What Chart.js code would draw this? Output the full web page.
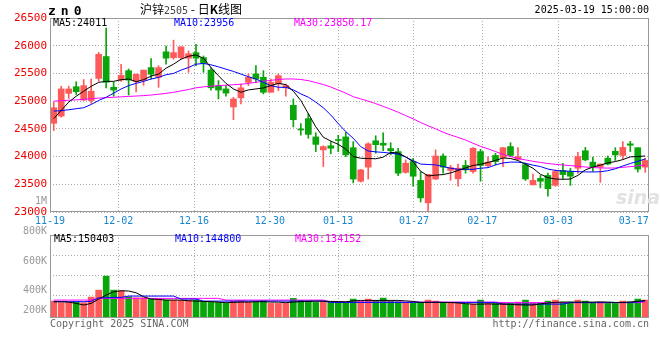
<!DOCTYPE html>
<html>
<head>
<meta charset="utf-8">
<script src="https://cdn.jsdelivr.net/npm/chart.js@4.4.1/dist/chart.umd.min.js"></script>
<style>
body { margin: 0; background: #fff; }
#wrap { position: relative; width: 660px; height: 360px; overflow: hidden; font-family: "DejaVu Sans Mono", monospace; font-size: 10px; }
#pbox { position: absolute; left: 0; top: 0; width: 660px; height: 232px; }
#vbox { position: absolute; left: 0; top: 232px; width: 660px; height: 128px; }
.t { position: absolute; white-space: nowrap; line-height: 12px; z-index: 2; }
.vl { right: 613px; color: #999; }
</style>
</head>
<body>
<div id="wrap">
  <div id="pbox"><canvas id="priceChart"></canvas></div>
  <div id="vbox"><canvas id="volChart"></canvas></div>

  <div class="t" style="left:48px;top:5px;font-weight:bold;font-size:13px;letter-spacing:5px;">zn0</div>
  <div class="t" style="left:140px;top:3px;font-family:'Noto Sans CJK SC';font-size:12px;color:#000;">沪锌<span style="font-family:'DejaVu Sans Mono';font-size:10px;color:#444;">2505</span> - 日<b>K</b>线图</div>
  <div class="t" style="right:11px;top:4px;color:#000;">2025-03-19 15:00:00</div>

  <div class="t" id="pMa5" style="left:53px;top:17px;color:#000;"></div>
  <div class="t" id="pMa10" style="left:174px;top:17px;color:#00f;"></div>
  <div class="t" id="pMa30" style="left:294px;top:17px;color:#f0f;"></div>

  <div class="t" id="vMa5" style="left:54px;top:233px;color:#000;"></div>
  <div class="t" id="vMa10" style="left:175px;top:233px;color:#00f;"></div>
  <div class="t" id="vMa30" style="left:295px;top:233px;color:#f0f;"></div>

  <div class="t vl" style="top:195px;">1M</div>
  <div class="t vl" style="top:225px;">800K</div>
  <div class="t vl" style="top:255px;">600K</div>
  <div class="t vl" style="top:284px;">400K</div>
  <div class="t vl" style="top:304px;">200K</div>

  <div class="t" style="left:50px;top:318px;color:#666;">Copyright 2025 SINA.COM</div>
  <div class="t" style="right:11px;top:318px;color:#666;">http://finance.sina.com.cn</div>
  <div class="t" style="left:616px;top:186px;font-family:'DejaVu Sans';font-style:italic;font-weight:bold;font-size:19px;line-height:22px;color:#e2e2e2;z-index:1;">sina</div>
</div>

<script>
var dates = ['11-19','11-20','11-21','11-22','11-25','11-26','11-27','11-28','11-29','12-02',
  '12-03','12-04','12-05','12-06','12-09','12-10','12-11','12-12','12-13','12-16',
  '12-17','12-18','12-19','12-20','12-23','12-24','12-25','12-26','12-27','12-30',
  '12-31','01-02','01-03','01-06','01-07','01-08','01-09','01-10','01-13','01-14',
  '01-15','01-16','01-17','01-20','01-21','01-22','01-23','01-24','01-27','02-05',
  '02-06','02-07','02-10','02-11','02-12','02-13','02-14','02-17','02-18','02-19',
  '02-20','02-21','02-24','02-25','02-26','02-27','02-28','03-03','03-04','03-05',
  '03-06','03-07','03-10','03-11','03-12','03-13','03-14','03-17','03-18','03-19'];
var tickDates = ['11-19','12-02','12-16','12-30','01-13','01-27','02-17','03-03','03-17'];

var open = [24600,24730,25140,25260,25020,25010,25410,25805,25250,25380,
  25550,25355,25380,25605,25430,25890,25785,25785,25775,25875,
  25785,25560,25280,25220,24895,25060,25340,25490,25430,25160,
  25310,25240,24925,24495,24685,24355,24120,24195,24300,24355,
  24160,23555,23810,24285,24240,24145,24090,23715,23910,23570,
  23165,23595,24010,23750,23600,23840,23730,24090,23835,24020,
  23980,24180,23950,23855,23490,23605,23660,23480,23750,23730,
  23790,24105,23900,23810,23970,24095,24020,24230,24160,23810];
var high = [24980,25270,25270,25350,25390,25400,25880,26320,25340,25665,
  25580,25490,25560,25770,25640,25995,26100,25985,25905,26025,
  25815,25605,25370,25280,25070,25310,25490,25640,25550,25400,
  25490,25310,25040,24595,24775,24430,24195,24270,24385,24440,
  24270,23770,24250,24375,24430,24250,24150,23940,23970,23730,
  23680,24120,24050,23840,23865,23930,24160,24130,24000,24060,
  24160,24250,24160,23880,23685,23660,23700,23760,23880,23790,
  24075,24165,23990,23865,24010,24160,24270,24275,24160,23970];
var low = [24470,24710,25050,25120,25010,24960,25360,25240,25090,25355,
  25110,25165,25285,25400,25250,25665,25755,25755,25520,25640,
  25520,25200,25040,25090,24665,24950,25280,25340,25130,25160,
  25190,25090,24535,24385,24330,24090,23820,24050,24090,24000,
  23525,23540,23595,24060,24105,24030,23655,23700,23465,23180,
  23000,23585,23700,23570,23465,23700,23700,23555,23820,23850,
  23820,24000,23940,23570,23490,23435,23285,23465,23600,23480,
  23700,23925,23730,23535,23850,23930,23950,24090,23720,23715];
var close = [24880,25220,25220,25170,25280,25180,25845,25340,25200,25465,
  25380,25485,25560,25485,25605,25775,25875,25980,25855,25775,
  25680,25240,25200,25145,25040,25240,25430,25400,25160,25340,
  25460,25280,24665,24480,24400,24220,24180,24150,24290,24030,
  23595,23760,24230,24215,24205,24105,23700,23880,23645,23255,
  23680,24010,23810,23800,23790,23760,24150,23840,23900,23910,
  24160,24020,24000,23595,23570,23555,23420,23730,23675,23645,
  24000,23940,23820,23865,23865,24030,24165,24205,23775,23930];

var ma5 = [24685,24833,24982,25089,25179,25268,25339,25357,25357,25387,
  25399,25351,25387,25452,25488,25595,25667,25756,25810,25833,
  25774,25607,25458,25321,25220,25161,25202,25220,25238,25280,
  25321,25298,25179,25012,24774,24536,24350,24280,24220,24135,
  24000,23970,23965,23960,23990,24075,24065,23995,23905,23735,
  23650,23665,23675,23705,23750,23795,23840,23860,23895,23930,
  23975,23965,23930,23860,23790,23680,23620,23595,23590,23595,
  23660,23760,23810,23845,23885,23910,23945,23995,24000,24011];
var ma10 = [24821,24827,24845,24863,24881,24940,25012,25071,25143,25220,
  25280,25321,25357,25399,25429,25476,25500,25560,25607,25667,
  25679,25655,25619,25577,25536,25488,25441,25399,25339,25280,
  25250,25250,25202,25131,25071,24982,24881,24750,24595,24450,
  24330,24180,24100,24085,24075,24060,24045,23990,23925,23865,
  23857,23850,23820,23790,23770,23770,23770,23790,23800,23850,
  23885,23900,23900,23880,23845,23820,23775,23750,23740,23735,
  23728,23724,23722,23726,23745,23780,23830,23875,23915,23956];
var ma30 = [25000,25008,25016,25024,25032,25045,25055,25062,25070,25078,
  25085,25092,25100,25110,25125,25140,25160,25185,25210,25240,
  25258,25270,25280,25288,25296,25305,25320,25340,25360,25375,
  25390,25400,25400,25390,25370,25335,25300,25255,25200,25145,
  25080,25040,25000,24955,24905,24855,24800,24740,24680,24615,
  24555,24500,24440,24390,24345,24300,24240,24185,24140,24090,
  24040,24000,23965,23940,23915,23895,23875,23860,23848,23838,
  23825,23812,23802,23795,23792,23795,23805,23818,23832,23850.17];

var volume = [143000,127000,130000,137000,127000,183000,252000,391000,252000,246000,
  186000,176000,176000,163000,166000,153000,153000,150000,153000,153000,
  137000,130000,130000,120000,143000,146000,133000,133000,146000,120000,
  120000,120000,170000,150000,146000,130000,140000,133000,133000,133000,
  163000,140000,163000,150000,173000,143000,137000,127000,127000,123000,
  153000,143000,123000,123000,123000,113000,113000,153000,123000,120000,
  120000,120000,133000,153000,120000,120000,143000,153000,133000,133000,
  153000,143000,123000,133000,120000,120000,143000,133000,163000,153000];
var volMa5 = [137000,137000,133000,120000,104000,120000,163000,203000,236000,246000,
  243000,226000,186000,163000,160000,153000,153000,153000,146000,143000,
  140000,137000,133000,127000,130000,133000,133000,137000,137000,133000,
  133000,127000,133000,137000,140000,143000,143000,140000,138000,136000,
  145000,150000,150000,150000,150000,150000,150000,145000,140000,130000,
  130000,132000,130000,128000,125000,118000,113000,113000,115000,113000,
  113000,110000,106000,104000,104000,115000,125000,130000,133000,133000,
  133000,133000,133000,135000,133000,130000,130000,135000,140000,150403];
var volMa10 = [137000,137000,137000,137000,137000,140000,176000,176000,180000,180000,
  193000,193000,193000,193000,193000,193000,193000,163000,163000,163000,
  143000,143000,143000,143000,143000,143000,143000,143000,143000,143000,
  143000,143000,143000,143000,143000,143000,143000,130000,130000,130000,
  130000,130000,130000,130000,130000,130000,130000,130000,130000,130000,
  130000,130000,130000,130000,130000,130000,130000,130000,130000,130000,
  113000,113000,113000,113000,113000,113000,113000,113000,113000,128000,
  128000,128000,128000,128000,128000,128000,128000,128000,135000,144800];
var volMa30 = [153000,153000,153000,153000,153000,153000,170000,170000,170000,170000,
  170000,170000,170000,170000,170000,170000,170000,170000,170000,170000,
  170000,170000,170000,153000,153000,153000,153000,153000,153000,153000,
  153000,153000,153000,153000,153000,153000,153000,133000,133000,133000,
  133000,133000,133000,133000,133000,133000,133000,133000,133000,133000,
  133000,133000,133000,133000,133000,133000,133000,133000,133000,133000,
  128000,128000,128000,128000,128000,128000,128000,128000,128000,128000,
  128000,128000,128000,128000,128000,128000,128000,128000,128000,134152];
var volGrid = [200000, 400000, 600000, 800000];

var RED = '#ff5a5a';
var GREEN = '#0aa50a';
var GRID = '#aaa';
var MONO = '"DejaVu Sans Mono", monospace';
var n = dates.length;

var candleColor = close.map(function(c, i) { return c >= open[i] ? RED : GREEN; });
var tickIdx = tickDates.map(function(d) { return dates.indexOf(d); });

function last(a) { return a[a.length - 1]; }
document.getElementById('pMa5').textContent = 'MA5:' + last(ma5);
document.getElementById('pMa10').textContent = 'MA10:' + last(ma10);
document.getElementById('pMa30').textContent = 'MA30:' + last(ma30);
document.getElementById('vMa5').textContent = 'MA5:' + last(volMa5);
document.getElementById('vMa10').textContent = 'MA10:' + last(volMa10);
document.getElementById('vMa30').textContent = 'MA30:' + last(volMa30);

function xy(arr) {
  return arr.map(function(v, i) { return { x: i, y: v }; });
}

function maLine(arr, color) {
  return { type: 'line', data: xy(arr), borderColor: color, borderWidth: 1,
    pointRadius: 0, tension: 0, order: 0 };
}

// grey box round the plot area
var frame = {
  id: 'frame',
  afterDraw: function(chart) {
    var a = chart.chartArea, c = chart.ctx;
    c.save();
    c.strokeStyle = '#999';
    c.lineWidth = 1;
    c.strokeRect(a.left + 0.5, a.top + 0.5, a.right - a.left - 1, a.bottom - a.top - 1);
    c.restore();
  }
};

function xScale(showLabels) {
  return {
    type: 'linear', min: -0.5, max: n - 0.5, offset: false,
    afterBuildTicks: function(s) {
      s.ticks = tickIdx.map(function(i) { return { value: i * n / (n - 1) - 0.5 }; });
    },
    afterFit: function(s) { s.height = showLabels ? 20 : 0; },
    ticks: {
      display: showLabels, autoSkip: false, maxRotation: 0, padding: 3,
      color: '#1a86d0', font: { family: MONO, size: 10 },
      callback: function(v, i) { return tickDates[i]; }
    },
    grid: {
      offset: false, drawTicks: false,
      color: function(ctx) { return ctx.index === tickIdx.length - 1 ? 'rgba(0,0,0,0)' : GRID; }
    },
    border: { display: false, dash: [1, 2] }
  };
}

var common = {
  responsive: true, maintainAspectRatio: false, animation: false, events: [],
  plugins: { legend: { display: false }, tooltip: { enabled: false } }
};

new Chart(document.getElementById('priceChart'), {
  type: 'bar',
  data: {
    datasets: [
      maLine(ma5, '#000'),
      maLine(ma10, '#00f'),
      maLine(ma30, '#f0f'),
      { data: dates.map(function(d, i) { return { x: i, y: [open[i], close[i]] }; }),
        backgroundColor: candleColor, barThickness: 6, minBarLength: 1, grouped: false, order: 1 },
      { data: dates.map(function(d, i) { return { x: i, y: [low[i], high[i]] }; }),
        backgroundColor: candleColor, barThickness: 1, grouped: false, order: 2 }
    ]
  },
  options: Object.assign({}, common, {
    layout: { padding: { top: 18, right: 11, left: 0, bottom: 0 } },
    scales: {
      x: xScale(true),
      y: {
        min: 23000, max: 26500,
        afterFit: function(s) { s.width = 50; },
        ticks: { stepSize: 500, color: '#e00', font: { family: MONO, size: 11 }, padding: 3,
          callback: function(v) { return String(v); } },
        grid: { drawTicks: false, color: GRID },
        border: { display: false, dash: [1, 2] }
      }
    }
  }),
  plugins: [frame]
});

var volMin = -25000;
new Chart(document.getElementById('volChart'), {
  type: 'bar',
  data: {
    datasets: [
      maLine(volMa5, '#000'),
      maLine(volMa10, '#00f'),
      maLine(volMa30, '#f0f'),
      { data: xy(volume), base: volMin, backgroundColor: candleColor,
        barThickness: 6, grouped: false, order: 1 }
    ]
  },
  options: Object.assign({}, common, {
    layout: { padding: { top: 3, right: 11, left: 0, bottom: 42 } },
    scales: {
      x: xScale(false),
      y: {
        min: volMin, max: 800000,
        afterBuildTicks: function(s) { s.ticks = volGrid.map(function(v) { return { value: v }; }); },
        afterFit: function(s) { s.width = 50; },
        ticks: { display: false },
        grid: { drawTicks: false, color: GRID },
        border: { display: false, dash: [1, 2] }
      }
    }
  }),
  plugins: [frame]
});
</script>
</body>
</html>
